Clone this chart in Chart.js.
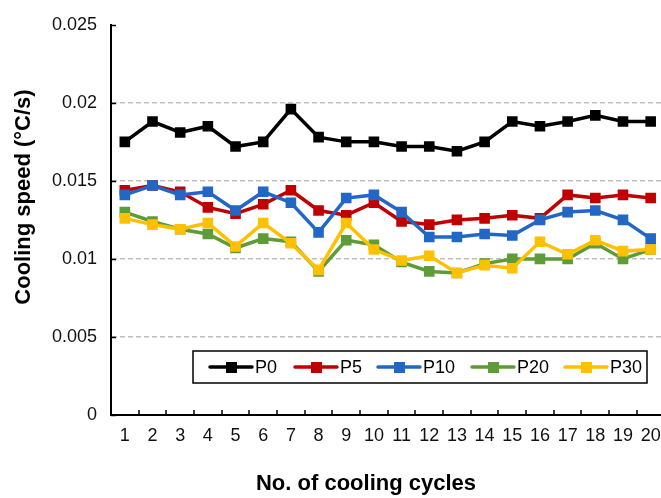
<!DOCTYPE html>
<html>
<head>
<meta charset="utf-8">
<script src="https://cdn.jsdelivr.net/npm/chart.js@4.4.0/dist/chart.umd.min.js"></script>
<style>
  html, body { margin: 0; padding: 0; background: #fff; overflow: hidden; }
  #wrap { position: relative; width: 661px; height: 498px; overflow: hidden; }
</style>
</head>
<body>
<div id="wrap"><canvas id="chart_cooling" width="672" height="498"></canvas></div>
<script>
// data
var cycles = ['1','2','3','4','5','6','7','8','9','10','11','12','13','14','15','16','17','18','19','20'];
var seriesNames = ['P0', 'P5', 'P10', 'P20', 'P30'];
var p0  = [0.0175, 0.0188, 0.0181, 0.0185, 0.0172, 0.0175, 0.0196, 0.0178, 0.0175, 0.0175, 0.0172, 0.0172, 0.0169, 0.0175, 0.0188, 0.0185, 0.0188, 0.0192, 0.0188, 0.0188];
var p5  = [0.0144, 0.0147, 0.0143, 0.0133, 0.0129, 0.0135, 0.0144, 0.0131, 0.0128, 0.0136, 0.0124, 0.0122, 0.0125, 0.0126, 0.0128, 0.0126, 0.0141, 0.0139, 0.0141, 0.0139];
var p10 = [0.0141, 0.0147, 0.0141, 0.0143, 0.0131, 0.0143, 0.0136, 0.0117, 0.0139, 0.0141, 0.0130, 0.0114, 0.0114, 0.0116, 0.0115, 0.0125, 0.0130, 0.0131, 0.0125, 0.0113];
var p20 = [0.0130, 0.0124, 0.0119, 0.0116, 0.0107, 0.0113, 0.0111, 0.0092, 0.0112, 0.0109, 0.0098, 0.0092, 0.0091, 0.0097, 0.0100, 0.0100, 0.0100, 0.0110, 0.0100, 0.0106];
var p30 = [0.0126, 0.0122, 0.0119, 0.0123, 0.0108, 0.0123, 0.0110, 0.0093, 0.0123, 0.0106, 0.0099, 0.0102, 0.0091, 0.0096, 0.0094, 0.0111, 0.0103, 0.0112, 0.0105, 0.0106];
var yTicks = [0, 0.005, 0.01, 0.015, 0.02, 0.025];
var yTickLabels = ['0', '0.005', '0.01', '0.015', '0.02', '0.025'];
var xTitle = 'No. of cooling cycles';
var yTitle = 'Cooling speed (°C/s)';

var colors = ['#000000', '#C00000', '#2267C5', '#5E9C38', '#FFC000'];
var FONT = '"Liberation Sans", Arial, sans-serif';

function makeSet(i, values) {
    return {
        label: seriesNames[i],
        data: values,
        borderColor: colors[i],
        backgroundColor: colors[i],
        borderWidth: 3.5,
        pointStyle: 'rect',
        pointRadius: 7.5,
        pointHoverRadius: 7.5,
        pointBorderWidth: 0,
        tension: 0,
        order: 5 - i
    };
}

// inward tick marks, boxed legend and axis titles
var extras = {
    id: 'extras',
    afterDraw: function (chart) {
        var ctx = chart.ctx;
        var x = chart.scales.x, y = chart.scales.y;
        var area = chart.chartArea;
        ctx.save();
        ctx.strokeStyle = '#000';
        ctx.lineWidth = 1.5;
        // x ticks between categories, pointing up
        var step = x.getPixelForValue(1) - x.getPixelForValue(0);
        for (var i = 0; i <= cycles.length; i++) {
            var px = Math.round(x.getPixelForValue(0) - step / 2 + i * step);
            ctx.beginPath();
            ctx.moveTo(px, area.bottom);
            ctx.lineTo(px, area.bottom - 5);
            ctx.stroke();
        }
        // y ticks pointing right
        yTicks.forEach(function (v) {
            var py = Math.round(y.getPixelForValue(v)) + 0.5;
            ctx.beginPath();
            ctx.moveTo(area.left, py);
            ctx.lineTo(area.left + 5, py);
            ctx.stroke();
        });

        // legend box
        var boxL = 193, boxT = 351, boxR = 647, boxB = 383;
        ctx.fillStyle = '#fff';
        ctx.fillRect(boxL, boxT, boxR - boxL, boxB - boxT);
        ctx.lineWidth = 1.5;
        ctx.strokeStyle = '#000';
        ctx.strokeRect(boxL, boxT, boxR - boxL, boxB - boxT);
        var itemX = [210, 295, 378, 472, 565];
        var midY = (boxT + boxB) / 2;
        ctx.font = '18px ' + FONT;
        ctx.textBaseline = 'middle';
        ctx.textAlign = 'left';
        chart.data.datasets.forEach(function (ds, k) {
            var lx = itemX[k];
            ctx.strokeStyle = ds.borderColor;
            ctx.lineWidth = 3.5;
            ctx.lineCap = 'round';
            ctx.beginPath();
            ctx.moveTo(lx, midY);
            ctx.lineTo(lx + 42, midY);
            ctx.stroke();
            ctx.fillStyle = ds.backgroundColor;
            ctx.fillRect(lx + 16, midY - 5, 11, 11);
            ctx.fillStyle = '#000';
            ctx.fillText(ds.label, lx + 45, midY + 1);
        });

        // axis titles
        ctx.fillStyle = '#000';
        ctx.font = 'bold 22px ' + FONT;
        ctx.textAlign = 'center';
        ctx.fillText(xTitle, 366, 484);
        ctx.translate(24, 197);
        ctx.rotate(-Math.PI / 2);
        ctx.fillText(yTitle, 0, 0);
        ctx.restore();
    }
};

var ctx = document.getElementById('chart_cooling').getContext('2d');
var chart = new Chart(ctx, {
    type: 'line',
    data: {
        labels: cycles,
        datasets: [makeSet(0, p0), makeSet(1, p5), makeSet(2, p10), makeSet(3, p20), makeSet(4, p30)]
    },
    options: {
        responsive: false,
        animation: false,
        layout: { padding: { top: 21, right: 0, left: 0, bottom: 0 } },
        plugins: { legend: { display: false }, tooltip: { enabled: false } },
        scales: {
            x: {
                offset: true,
                grid: { display: false, drawTicks: false },
                border: { display: true, color: '#000', width: 2 },
                ticks: { color: '#111', font: { size: 18, family: FONT }, padding: 10, maxRotation: 0, autoSkip: false },
                afterFit: function (s) { s.height = 83; }
            },
            y: {
                min: 0,
                max: 0.025,
                afterBuildTicks: function (s) { s.ticks = yTicks.map(function (v) { return { value: v }; }); },
                grid: {
                    drawTicks: false,
                    color: function (c) { return (c.tick && c.tick.value > 0 && c.tick.value < 0.025) ? '#BFBFBF' : 'rgba(0,0,0,0)'; },
                    lineWidth: 1.5
                },
                border: { display: true, color: '#000', width: 2, dash: [5, 3] },
                ticks: {
                    color: '#111',
                    font: { size: 18, family: FONT },
                    padding: 14,
                    callback: function (v, i) { return yTickLabels[i]; }
                },
                afterFit: function (s) { s.width = 111; }
            }
        }
    },
    plugins: [extras]
});
</script>
</body>
</html>
